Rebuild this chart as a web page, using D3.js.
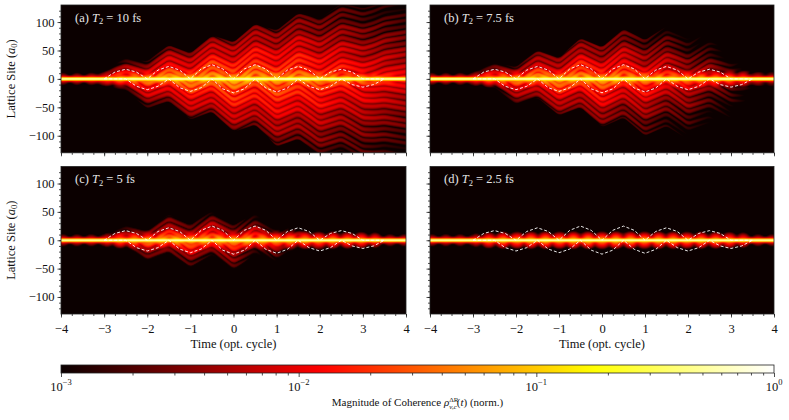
<!DOCTYPE html>
<html>
<head>
<meta charset="utf-8">
<script src="https://cdn.jsdelivr.net/npm/d3@7"></script>
<style>
  body { margin: 0; background: #fff; }
  .tick line { stroke: #222; stroke-width: 0.8; }
</style>
</head>
<body>
<svg id="chart" width="789" height="420"></svg>
<script>
// ---- values ----
var panelLetters = ["(a)", "(b)", "(c)", "(d)"];
var t2Labels = ["10", "7.5", "5", "2.5"];

var timeTicks = [-4, -3, -2, -1, 0, 1, 2, 3, 4];
var siteTicks = [-100, -50, 0, 50, 100];
var colorTicks = [1e-3, 1e-2, 1e-1, 1];
var colorTickExp = ["−3", "−2", "−1", "0"];

// white dashed curves (lattice site vs time, opt. cycles)
var curveTimes = [-4, -3.75, -3.5, -3.25, -3, -2.75, -2.5, -2.25, -2, -1.75, -1.5, -1.25, -1,
  -0.75, -0.5, -0.25, 0, 0.25, 0.5, 0.75, 1, 1.25, 1.5, 1.75, 2, 2.25, 2.5, 2.75, 3, 3.25, 3.5, 3.75, 4];
var upperCurve = [0, 0, 0, 0, 0, 12, 17, 12, 0, 15.5, 22, 15.5, 0,
  17.5, 25, 17.5, 0, 17.5, 25, 17.5, 0, 15.5, 22, 15.5, 0, 12, 17, 12, 0, 0, 0, 0, 0];
var lowerCurve = [0, 0, 0, 0, 0, 0, 0, -13, -19, -13, 0, -15.5, -22,
  -15.5, 0, -17.5, -24.5, -17.5, 0, -16, -23, -16, 0, -13, -19, -13, 0, -10, -14.5, -10, 0, 0, 0];

// envelope of the side plumes, sampled every half cycle (log10 level, reach in sites)
var envTimes = [-4, -3.5, -3, -2.5, -2, -1.5, -1, -0.5, 0, 0.5, 1, 1.5, 2, 2.5, 3, 3.5, 4];
var levelA = [-3.4, -2.45, -1.95, -1.65, -1.45, -1.3, -1.25, -1.2, -1.2, -1.25, -1.3, -1.35, -1.45, -1.55, -1.65, -1.75, -1.85];
var levelB = [-3.4, -2.65, -2.15, -1.75, -1.5, -1.35, -1.3, -1.3, -1.35, -1.45, -1.55, -1.7, -1.85, -2.05, -2.35, -2.75, -3.15];
var levelC = [-3.5, -2.9, -2.4, -1.95, -1.65, -1.5, -1.5, -1.55, -1.6, -1.75, -1.95, -2.25, -2.55, -2.85, -3.2, -3.5, -3.5];
var levelD = [-3.5, -3.5, -3.4, -3.2, -3.1, -3.0, -3.0, -3.0, -3.0, -3.0, -3.1, -3.2, -3.3, -3.4, -3.5, -3.5, -3.5];
var reachUpA = [0, 5, 14, 28, 38, 46, 54, 62, 74, 82, 94, 102, 114, 122, 130, 136, 140];
var reachLowA = [0, 5, 14, 28, 40, 48, 58, 67, 78, 90, 104, 114, 124, 132, 138, 142, 146];
var reachUpB = [0, 4, 10, 20, 28, 36, 46, 56, 66, 74, 78, 80, 80, 76, 72, 66, 60];
var reachLowB = [0, 4, 10, 22, 34, 42, 50, 60, 70, 78, 86, 92, 96, 98, 100, 100, 100];
var reachUpC = [0, 3, 8, 18, 26, 32, 36, 36, 36, 33, 28, 22, 17, 12, 8, 6, 4];
var reachLowC = [0, 3, 8, 18, 26, 30, 34, 36, 38, 35, 28, 20, 15, 10, 7, 5, 4];
var reachUpD = [0, 2, 3, 6, 8, 10, 10, 10, 10, 10, 10, 9, 8, 6, 4, 2, 2];
var reachLowD = [0, 2, 3, 6, 8, 10, 10, 10, 10, 10, 10, 9, 8, 6, 4, 2, 2];
var fillDepth = [60, 40, 15, 4];

// ---- layout ----
var svg = d3.select("#chart");
var frames = [
  { x0: 61, x1: 406, y0: 5, y1: 152.8 },
  { x0: 430, x1: 774, y0: 5, y1: 152.8 },
  { x0: 61, x1: 406, y0: 166.5, y1: 314 },
  { x0: 430, x1: 774, y0: 166.5, y1: 314 }
];
var levels = [levelA, levelB, levelC, levelD];
var reachUp = [reachUpA, reachUpB, reachUpC, reachUpD];
var reachLow = [reachLowA, reachLowB, reachLowC, reachLowD];

var hotColor = d3.scaleLinear()
  .domain([0, 0.365079, 0.746032, 1])
  .range(["#0b0000", "#ff0000", "#ffff00", "#ffffff"])
  .clamp(true);
var logPos = d3.scaleLog().domain([1e-3, 1]).range([0, 1]).clamp(true);
var lut = d3.range(1024).map(function(i) { return d3.rgb(hotColor(i / 1023)); });

var upperAt = d3.scaleLinear().domain(curveTimes).range(upperCurve).clamp(true);
var lowerAt = d3.scaleLinear().domain(curveTimes).range(lowerCurve).clamp(true);

// the streaks swing with the mean of the two dashed curves (slightly rounded)
function swing(t) {
  var s = 0, n = 0;
  for (var d = -0.06; d <= 0.0601; d += 0.03) { s += 0.5 * (upperAt(t + d) + lowerAt(t + d)); n++; }
  return s / n;
}

function minusFmt(d) { return d < 0 ? "−" + Math.abs(d) : String(d); }

function drawPanel(k) {
  var f = frames[k];
  var x = d3.scaleLinear().domain([-4, 4]).range([f.x0, f.x1]);
  var y = d3.scaleLinear().domain([-130, 130]).range([f.y1, f.y0]);
  var level = d3.scaleLinear().domain(envTimes).range(levels[k]).clamp(true);
  var rUp = d3.scaleLinear().domain(envTimes).range(reachUp[k]).clamp(true);
  var rLow = d3.scaleLinear().domain(envTimes).range(reachLow[k]).clamp(true);
  var fill = fillDepth[k];

  var W = Math.round((f.x1 - f.x0) * 2), H = Math.round((f.y1 - f.y0) * 2);
  var canvas = document.createElement("canvas");
  canvas.width = W; canvas.height = H;
  var ctx = canvas.getContext("2d");
  var img = ctx.createImageData(W, H);

  for (var i = 0; i < W; i++) {
    var t = x.invert(f.x0 + (i + 0.5) * (f.x1 - f.x0) / W);
    var D = swing(t);
    var L = Math.pow(10, level(t));
    var Ru = Math.max(rUp(t), 1), Rl = Math.max(rLow(t), 1);
    var bead = Math.pow(Math.cos(Math.PI * t / 0.33), 2);
    var halo = (0.006 + 0.0012 * (upperAt(t) - lowerAt(t))) * (0.25 + 0.75 * bead);
    for (var j = 0; j < H; j++) {
      var yy = y.invert(f.y0 + (j + 0.5) * (f.y1 - f.y0) / H);
      // bright band on the centre site
      var v = 0.55 * Math.exp(-yy * yy / (2 * 1.2 * 1.2)) + 0.03 * Math.exp(-yy * yy / (2 * 2.5 * 2.5)) +
        halo * Math.exp(-yy * yy / (2 * 36));
      // side plumes swinging with the field
      var side = yy >= 0 ? 1 : -1;
      var yh = side * (yy - D);
      var R = side > 0 ? Ru : Rl;
      var g;
      if (yh < 0) g = Math.exp(yh / fill);
      else if (yh <= R) g = Math.pow(10, -1.05 * yh / R);
      else g = 0.09 * Math.exp(-Math.pow((yh - R) / 3, 2));
      var fr = ((yh - 12 * t) / 10) % 1;
      if (fr < 0) fr += 1;
      var m = 0.3 + 0.7 * Math.pow(Math.sin(Math.PI * fr), 1.2);
      var m2 = 0.5 + 0.5 * Math.cos(2 * Math.PI * (yh - 20 * t) / 31);
      v += L * g * m * (0.65 + 0.35 * m2);
      var c = lut[Math.round(logPos(v) * 1023)];
      var o = (j * W + i) * 4;
      img.data[o] = c.r; img.data[o + 1] = c.g; img.data[o + 2] = c.b; img.data[o + 3] = 255;
    }
  }
  ctx.putImageData(img, 0, 0);

  var g0 = svg.append("g");
  g0.append("image")
    .attr("href", canvas.toDataURL())
    .attr("x", f.x0).attr("y", f.y0)
    .attr("width", f.x1 - f.x0).attr("height", f.y1 - f.y0)
    .attr("preserveAspectRatio", "none");

  // dashed curves
  var pts = curveTimes.map(function(t, i) { return { t: t, u: upperCurve[i], l: lowerCurve[i] }; })
    .filter(function(d) { return d.t >= -3 && d.t <= 3.5; });
  var lineU = d3.line().x(function(d) { return x(d.t); }).y(function(d) { return y(d.u); });
  var lineL = d3.line().x(function(d) { return x(d.t); }).y(function(d) { return y(d.l); });
  [lineU, lineL].forEach(function(ln) {
    g0.append("path").attr("d", ln(pts))
      .attr("fill", "none").attr("stroke", "#fff").attr("stroke-opacity", 0.9)
      .attr("stroke-width", 1).attr("stroke-dasharray", "3,2");
  });

  g0.append("rect")
    .attr("x", f.x0).attr("y", f.y0).attr("width", f.x1 - f.x0).attr("height", f.y1 - f.y0)
    .attr("fill", "none").attr("stroke", "#222").attr("stroke-width", 0.8);

  // axes
  var bottom = k >= 2;
  var left = k % 2 === 0;
  g0.append("g").attr("transform", "translate(0," + f.y1 + ")")
    .call(d3.axisBottom(x).tickValues(timeTicks).tickSize(3.5).tickPadding(6.5)
      .tickFormat(bottom ? minusFmt : ""));
  g0.append("g").attr("transform", "translate(0," + f.y1 + ")")
    .call(d3.axisBottom(x).tickValues(d3.range(-4, 4.001, 0.25)).tickSize(2).tickFormat(""));
  g0.append("g").attr("transform", "translate(" + f.x0 + ",0)")
    .call(d3.axisLeft(y).tickValues(siteTicks).tickSize(3.5).tickPadding(3)
      .tickFormat(left ? minusFmt : ""));
  g0.append("g").attr("transform", "translate(" + f.x0 + ",0)")
    .call(d3.axisLeft(y).tickValues(d3.range(-120, 121, 10)).tickSize(2).tickFormat(""));
  g0.selectAll(".domain").remove();
  g0.selectAll(".tick text").attr("font-size", 12.5).attr("fill", "#111");

  // panel label
  var lab = g0.append("text").attr("x", f.x0 + 14).attr("y", f.y0 + 16.5)
    .attr("font-size", 12.5).attr("fill", "#e6e6e6");
  lab.append("tspan").text(panelLetters[k] + " ");
  lab.append("tspan").attr("font-style", "italic").text("T");
  lab.append("tspan").attr("font-size", 8.5).attr("dy", 2.5).text("2");
  lab.append("tspan").attr("dy", -2.5).text(" = " + t2Labels[k] + " fs");

  if (bottom) {
    g0.append("text").attr("x", (f.x0 + f.x1) / 2).attr("y", 348)
      .attr("text-anchor", "middle").attr("font-size", 12.5).attr("fill", "#111")
      .text("Time (opt. cycle)");
  }
  if (left) {
    var yl = g0.append("text")
      .attr("transform", "translate(14.5," + ((f.y0 + f.y1) / 2) + ") rotate(-90)")
      .attr("text-anchor", "middle").attr("font-size", 12.5).attr("fill", "#111");
    yl.append("tspan").text("Lattice Site (");
    yl.append("tspan").attr("font-style", "italic").text("a");
    yl.append("tspan").attr("font-size", 8.5).attr("dy", 2.5).text("0");
    yl.append("tspan").attr("dy", -2.5).text(")");
  }
}

for (var k = 0; k < 4; k++) drawPanel(k);

// ---- colour bar ----
var cb = { x0: 61, x1: 774, y0: 365, y1: 373 };
var cx = d3.scaleLog().domain([1e-3, 1]).range([cb.x0, cb.x1]);
var grad = svg.append("defs").append("linearGradient").attr("id", "hotgrad")
  .attr("x1", "0%").attr("x2", "100%").attr("y1", "0%").attr("y2", "0%");
d3.range(65).forEach(function(i) {
  grad.append("stop").attr("offset", (i / 64 * 100) + "%").attr("stop-color", hotColor(i / 64));
});
svg.append("rect").attr("x", cb.x0).attr("y", cb.y0)
  .attr("width", cb.x1 - cb.x0).attr("height", cb.y1 - cb.y0)
  .attr("fill", "url(#hotgrad)").attr("stroke", "#222").attr("stroke-width", 0.8);

var minorC = [];
[1e-3, 1e-2, 1e-1].forEach(function(dec) {
  [2, 3, 4, 5, 6, 7, 8, 9].forEach(function(m) { minorC.push(dec * m); });
});
svg.append("g").attr("transform", "translate(0," + cb.y1 + ")")
  .call(d3.axisBottom(cx).tickValues(colorTicks).tickSize(4).tickFormat(""));
svg.append("g").attr("transform", "translate(0," + cb.y1 + ")")
  .call(d3.axisBottom(cx).tickValues(minorC).tickSize(2.5).tickFormat(""));
svg.selectAll(".domain").remove();

colorTicks.forEach(function(v, i) {
  var tx = svg.append("text").attr("x", cx(v)).attr("y", 390.5)
    .attr("text-anchor", "middle").attr("font-size", 12.5).attr("fill", "#111");
  tx.append("tspan").text("10");
  tx.append("tspan").attr("font-size", 8.5).attr("dy", -5.5).text(colorTickExp[i]);
});

var ct = svg.append("text").attr("x", (cb.x0 + cb.x1) / 2).attr("y", 406)
  .attr("text-anchor", "middle").attr("font-size", 11).attr("fill", "#111");
ct.append("tspan").text("Magnitude of Coherence ");
ct.append("tspan").attr("font-style", "italic").text("ρ");
ct.append("tspan").attr("font-size", 7).attr("dy", -4.5).text("ΔR");
ct.append("tspan").attr("font-size", 7).attr("font-style", "italic").attr("dx", -9).attr("dy", 7.5).text("v,c");
ct.append("tspan").attr("dy", -3).text("(");
ct.append("tspan").attr("font-style", "italic").text("t");
ct.append("tspan").text(") (norm.)");

svg.selectAll("text").style("font-family", "'Liberation Serif', 'DejaVu Serif', serif");
</script>
</body>
</html>
